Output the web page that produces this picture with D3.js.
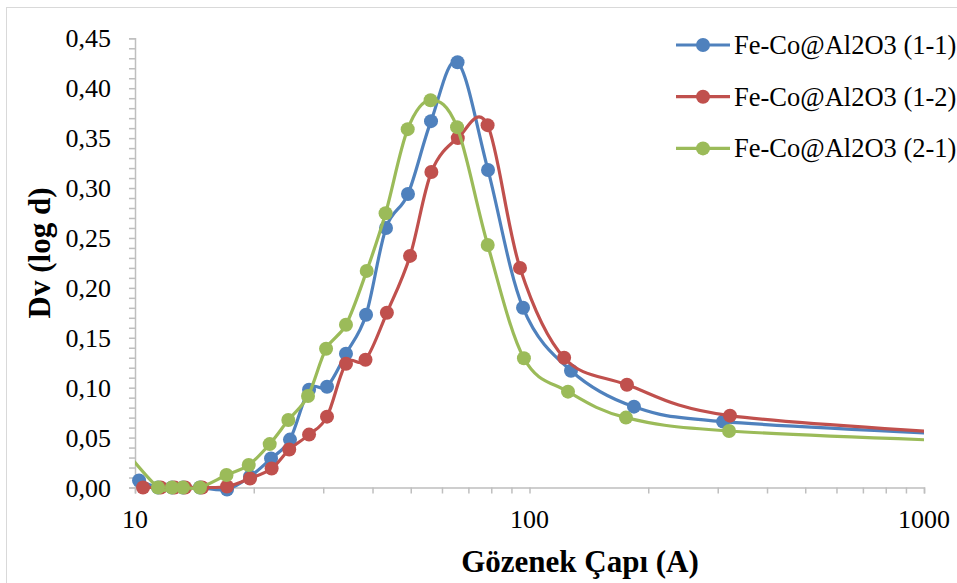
<!DOCTYPE html>
<html>
<head>
<meta charset="utf-8">
<script src="https://cdn.jsdelivr.net/npm/d3@7"></script>
<style>
  html, body { margin: 0; padding: 0; background: #fff; }
  svg { display: block; }
  text { font-family: "Liberation Serif", "Times New Roman", serif; fill: #000; }
</style>
</head>
<body>
<svg id="chart" width="957" height="583"></svg>
<script>
// Pore size distribution, three samples
const seriesNames = ["Fe-Co@Al2O3 (1-1)", "Fe-Co@Al2O3 (1-2)", "Fe-Co@Al2O3 (2-1)"];
const seriesColors = ["#4f81bd", "#c0504d", "#9bbb59"];

const xS11 = [10.24, 11.44, 12.41, 13.23, 14.61, 17.11, 19.57, 22.12, 24.71, 27.62, 30.67, 34.26, 38.52, 43.28, 49.20, 56.28, 65.71, 78.50, 96.3, 127.4, 184.0, 309.5, 1500];
const yS11 = [0.007, 0.000, 0.000, 0.000, 0.000, -0.002, 0.011, 0.029, 0.048, 0.098, 0.101, 0.134, 0.173, 0.260, 0.294, 0.367, 0.426, 0.318, 0.180, 0.117, 0.081, 0.066, 0.0516];

const xS12 = [10.48, 11.62, 12.6, 13.4, 14.8, 17.11, 19.57, 22.2, 24.6, 27.62, 30.67, 34.26, 38.4, 43.5, 49.8, 56.4, 65.8, 78.3, 94.6, 122.4, 176.6, 322.3, 1500];
const yS12 = [0.000, 0.000, 0.000, 0.000, 0.000, 0.001, 0.009, 0.019, 0.038, 0.053, 0.071, 0.124, 0.128, 0.175, 0.232, 0.316, 0.350, 0.363, 0.220, 0.130, 0.103, 0.072, 0.0524];

const xS21 = [9.3, 11.44, 12.41, 13.23, 14.61, 17.06, 19.42, 21.95, 24.47, 27.45, 30.50, 34.26, 38.67, 43.17, 49.12, 56.14, 65.51, 78.36, 96.8, 125.2, 175.6, 320.5, 1500];
const yS21 = [0.040, 0.000, 0.000, 0.000, 0.000, 0.0125, 0.0225, 0.0435, 0.0676, 0.0917, 0.139, 0.163, 0.217, 0.2747, 0.359, 0.388, 0.361, 0.243, 0.1295, 0.096, 0.070, 0.0566, 0.0453];

const xDomain = [10, 1000];
const yTicks = [0, 0.05, 0.10, 0.15, 0.20, 0.25, 0.30, 0.35, 0.40, 0.45];
const xTicks = [10, 100, 1000];
const xLabel = "Gözenek Çapı (A)";
const yLabel = "Dv (log d)";

const series = [
  { name: seriesNames[0], color: seriesColors[0], xs: xS11, ys: yS11 },
  { name: seriesNames[1], color: seriesColors[1], xs: xS12, ys: yS12 },
  { name: seriesNames[2], color: seriesColors[2], xs: xS21, ys: yS21 }
];

const svg = d3.select("#chart");
const plot = { left: 135, right: 924, top: 38.3, bottom: 487.5 };

// chart area border
svg.append("rect")
  .attr("x", 6.5).attr("y", 7.5)
  .attr("width", 1000).attr("height", 1000)
  .attr("fill", "none").attr("stroke", "#d9d9d9").attr("stroke-width", 1);

const x = d3.scaleLog().domain(xDomain).range([plot.left, plot.right]);
const y = d3.scaleLinear().domain([0, 0.45]).range([plot.bottom, plot.top]);

const fmt = d => d3.format(".2f")(d).replace(".", ",");

// y axis with minor ticks every 0.01
const yMinor = d3.range(0, 0.4501, 0.01);
const yAxisG = svg.append("g").attr("transform", `translate(${plot.left},0)`);
yAxisG.call(d3.axisLeft(y).tickValues(yMinor).tickSize(6).tickFormat(""));
yAxisG.selectAll(".tick line").attr("stroke", "#bfbfbf").attr("stroke-width", 1.5);
yAxisG.select(".domain").attr("stroke", "#bfbfbf").attr("stroke-width", 1.5);

svg.append("g").selectAll("text").data(yTicks).join("text")
  .attr("x", 111).attr("y", d => y(d) + 9)
  .attr("text-anchor", "end")
  .attr("font-size", 26)
  .text(fmt);

// x axis: decade labels plus tick marks at every integer multiple
const xMinor = [];
for (let dec = 10; dec < 1000; dec *= 10) for (let k = 1; k < 10; k++) xMinor.push(dec * k);
xMinor.push(1000);
const xAxisG = svg.append("g").attr("transform", `translate(0,${plot.bottom})`);
xAxisG.call(d3.axisBottom(x).tickValues(xMinor).tickSize(6).tickFormat(""));
xAxisG.selectAll(".tick line").attr("stroke", "#bfbfbf").attr("stroke-width", 1.5);
xAxisG.select(".domain").attr("stroke", "#bfbfbf").attr("stroke-width", 1.5);

svg.append("g").selectAll("text").data(xTicks).join("text")
  .attr("x", d => x(d)).attr("y", 528)
  .attr("text-anchor", "middle")
  .attr("font-size", 26)
  .text(d => d);

// axis titles
svg.append("text")
  .attr("x", 580).attr("y", 572)
  .attr("text-anchor", "middle")
  .attr("font-size", 31).attr("font-weight", "bold")
  .text(xLabel);

svg.append("text")
  .attr("transform", "translate(50,253) rotate(-90)")
  .attr("text-anchor", "middle")
  .attr("font-size", 31).attr("font-weight", "bold")
  .text(yLabel);

// plot clip for the curves
svg.append("clipPath").attr("id", "plotClip")
  .append("rect")
  .attr("x", plot.left).attr("y", 0)
  .attr("width", plot.right - plot.left).attr("height", plot.bottom + 20);

const line = d3.line()
  .x(d => x(d[0]))
  .y(d => y(d[1]))
  .curve(d3.curveCardinal.tension(0));

series.forEach(s => {
  const pts = s.xs.map((v, i) => [v, s.ys[i]]);
  const g = svg.append("g");
  g.append("path")
    .attr("d", line(pts))
    .attr("clip-path", "url(#plotClip)")
    .attr("fill", "none")
    .attr("stroke", s.color)
    .attr("stroke-width", 3.2)
    .attr("stroke-linejoin", "round");
  g.selectAll("circle")
    .data(pts.filter(p => p[0] >= xDomain[0] && p[0] <= xDomain[1]))
    .join("circle")
    .attr("cx", d => x(d[0]))
    .attr("cy", d => y(d[1]))
    .attr("r", 7)
    .attr("fill", s.color);
});

// legend
const legend = svg.append("g");
series.forEach((s, i) => {
  const ly = 45 + i * 51.7;
  legend.append("line")
    .attr("x1", 676).attr("x2", 730).attr("y1", ly).attr("y2", ly)
    .attr("stroke", s.color).attr("stroke-width", 3.2);
  legend.append("circle")
    .attr("cx", 703).attr("cy", ly).attr("r", 7).attr("fill", s.color);
  legend.append("text")
    .attr("x", 734).attr("y", ly + 9)
    .attr("font-size", 26.5)
    .text(s.name);
});
</script>
</body>
</html>
